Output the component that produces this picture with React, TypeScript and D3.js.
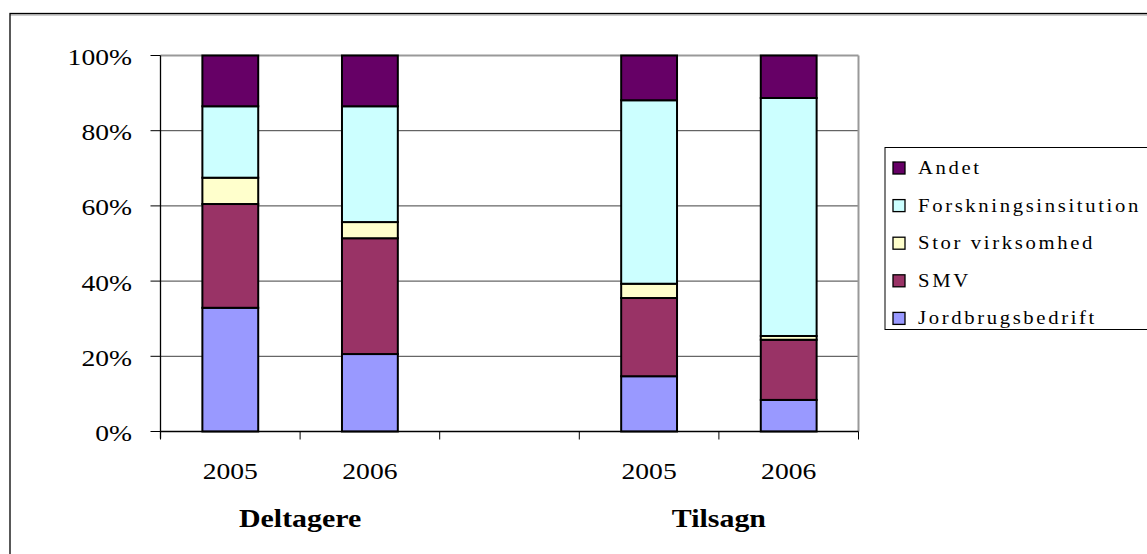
import React from "react";
import * as d3 from "d3";

const categories = ["2005", "2006", "", "2005", "2006"];
const groups = ["Deltagere", "Tilsagn"];
const groupBoundary = [1, 4]; // category boundary index under which each group label is centred
const seriesNames = ["Jordbrugsbedrift", "SMV", "Stor virksomhed", "Forskningsinsitution", "Andet"];
const colors = ["#9999FF", "#993366", "#FFFFCC", "#CCFFFF", "#660066"];
const jordbrugsbedrift = [32.9, 20.6, 0, 14.7, 8.4];
const smv = [27.6, 30.8, 0, 20.8, 16.0];
const storVirksomhed = [7.0, 4.3, 0, 3.8, 1.0];
const forskning = [19.0, 30.8, 0, 48.8, 63.3];
const andet = [13.5, 13.5, 0, 11.9, 11.3];
const yTicks = [0, 20, 40, 60, 80, 100];

const seriesValues = [jordbrugsbedrift, smv, storVirksomhed, forskning, andet];
const hasBar = [true, true, false, true, true];

const FONT = "'Liberation Serif', 'Times New Roman', serif";
const SX = 1.15;

function T(props: { x: number; y: number; anchor?: string; size: number; bold?: boolean; ls?: number; children: any }) {
  return (
    <text
      transform={`translate(${props.x},${props.y}) scale(${SX},1)`}
      textAnchor={props.anchor || "start"}
      fontSize={props.size}
      fontWeight={props.bold ? "bold" : "normal"}
      letterSpacing={props.ls || 0}
      fill="#000"
    >
      {props.children}
    </text>
  );
}

export default function App() {
  const W = 1147, H = 554;
  const left = 160.5, right = 858.5, top = 55.5, bottom = 431.5;

  const x = d3.scaleBand<string>()
    .domain(categories.map((_, i) => String(i)))
    .range([left, right])
    .paddingInner(0.6)
    .paddingOuter(0.3);
  const y = d3.scaleLinear().domain([0, 100]).range([bottom, top]);
  const step = x.step();
  const boundaries = d3.range(categories.length + 1).map((i) => left + i * step);

  const table = categories.map((c, i) => {
    const row: any = { key: String(i) };
    seriesNames.forEach((s, j) => (row[s] = seriesValues[j][i]));
    return row;
  });
  const stacked = d3.stack<any>().keys(seriesNames)(table);

  return (
    <svg width={W} height={H} style={{ position: "absolute", left: 0, top: 0 }} fontFamily={FONT}>
      <rect x={0} y={0} width={W} height={H} fill="#fff" />
      {/* outer frame */}
      <line x1={10} y1={15} x2={W} y2={15} stroke="#999" strokeWidth={1} />
      <rect x={10} y={13.5} width={W + 20} height={H + 20} fill="none" stroke="#000" strokeWidth={1.3} />

      {/* gridlines */}
      {yTicks.filter((t) => t > 0 && t < 100).map((t) => (
        <line key={t} x1={left} x2={right} y1={y(t)} y2={y(t)} stroke="#404040" strokeWidth={1} />
      ))}
      <line x1={left} x2={right} y1={y(100)} y2={y(100)} stroke="#999" strokeWidth={2} />
      <line x1={right} x2={right} y1={top} y2={bottom} stroke="#999" strokeWidth={2} />

      {/* bars */}
      {stacked.map((layer, si) =>
        layer.map((d, i) =>
          hasBar[i] && d[1] - d[0] > 0 ? (
            <rect
              key={si + "-" + i}
              x={x(String(i))}
              width={x.bandwidth()}
              y={y(d[1])}
              height={y(d[0]) - y(d[1])}
              fill={colors[si]}
              stroke="#000"
              strokeWidth={2}
            />
          ) : null
        )
      )}

      {/* axes */}
      <line x1={left} x2={left} y1={top} y2={bottom + 7} stroke="#000" strokeWidth={1.3} />
      <line x1={left} x2={right} y1={bottom} y2={bottom} stroke="#000" strokeWidth={1.3} />
      {yTicks.map((t) => (
        <g key={t}>
          <line x1={left - 10} x2={left} y1={y(t)} y2={y(t)} stroke="#000" strokeWidth={1} />
          <T x={132} y={y(t) + 9.5} anchor="end" size={24}>
            {t + "%"}
          </T>
        </g>
      ))}
      {boundaries.map((b, i) => (
        <line key={i} x1={b} x2={b} y1={bottom} y2={bottom + 8} stroke="#000" strokeWidth={1} />
      ))}
      {categories.map((c, i) => (
        <T key={i} x={(x(String(i)) as number) + x.bandwidth() / 2} y={479} anchor="middle" size={24}>
          {c}
        </T>
      ))}
      {groups.map((g, i) => (
        <T key={g} x={boundaries[groupBoundary[i]]} y={527} anchor="middle" size={26} bold>
          {g}
        </T>
      ))}

      {/* legend */}
      <rect x={885} y={147.5} width={300} height={182} fill="#fff" stroke="#000" strokeWidth={1} />
      {seriesNames.slice().reverse().map((s, k) => {
        const si = seriesNames.length - 1 - k;
        const cy = 168 + k * 37.6;
        return (
          <g key={s}>
            <rect x={893} y={cy - 6} width={12} height={12} fill={colors[si]} stroke="#000" strokeWidth={1.3} />
            <T x={918} y={cy + 6} size={18} ls={2.3}>
              {s}
            </T>
          </g>
        );
      })}
    </svg>
  );
}
